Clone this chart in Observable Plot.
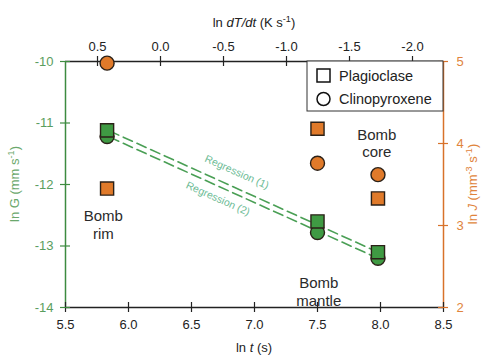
<!DOCTYPE html>
<html><head><meta charset="utf-8">
<script src="https://cdn.jsdelivr.net/npm/d3@7"></script>
<script src="https://cdn.jsdelivr.net/npm/@observablehq/plot@0.6"></script>
<style>
body{margin:0;background:#fff}
#chart svg{font-family:"Liberation Sans",Arial,sans-serif;background:#fff}
</style>
</head><body><div id="chart"></div>
<script>
// ---- data ----
const lnT = [5.83, 7.5, 7.98];                 // ln t (s)
const plagG = [-11.12, -12.6, -13.1];          // Plagioclase ln G
const cpxG = [-11.22, -12.78, -13.2];          // Clinopyroxene ln G
const plagJ = [3.45, 4.18, 3.33];              // Plagioclase ln J
const cpxJ = [4.98, 3.76, 3.62];               // Clinopyroxene ln J
const sampleNames = ["Bomb\nrim", "Bomb\nmantle", "Bomb\ncore"];
const sampleLabelX = [5.8, 7.51, 7.97];
const sampleLabelY = [-12.65, -13.74, -11.33];
const reg1X = [5.85, 7.98], reg1Y = [-11.13, -13.1];
const reg2X = [5.85, 7.98], reg2Y = [-11.23, -13.2];
const regLabels = ["Regression (1)", "Regression (2)"];
const regLabelX = [6.86, 6.71];
const regLabelY = [-11.80, -12.23];
const xTicks = [5.5, 6.0, 6.5, 7.0, 7.5, 8.0, 8.5];
const gTicks = [-14, -13, -12, -11, -10];
const jTicks = [2, 3, 4, 5];
const coolTicks = [0.5, 0.0, -0.5, -1.0, -1.5, -2.0];
const coolOffset = 6.254;   // ln dT/dt = coolOffset - ln t

// ---- helpers ----
const JtoG = j => -14 + (j - 2) * 4 / 3;
const green = "#3f9a43", greenAxis = "#3d8b40", greenLbl = "#5a9e5e";
const orange = "#e07a2a", orangeAxis = "#d8722a", orangeLbl = "#e0843c";
const dark = "#2b2118";

const rows = lnT.map((t, i) => ({t, plagG: plagG[i], cpxG: cpxG[i], plagJ: JtoG(plagJ[i]), cpxJ: JtoG(cpxJ[i])}));
const regs = [
  ...reg1X.map((x, i) => ({id: 1, x, y: reg1Y[i]})),
  ...reg2X.map((x, i) => ({id: 2, x, y: reg2Y[i]}))
];
const samples = sampleNames.map((s, i) => ({s, x: sampleLabelX[i], y: sampleLabelY[i]}));
const regText = regLabels.map((s, i) => ({s, x: regLabelX[i], y: regLabelY[i]}));
const coolPos = coolTicks.map(c => coolOffset - c);
const jPos = jTicks.map(JtoG);

const W = 489, H = 357, mt = 61, mr = 46, mb = 50, ml = 65;
const fw = W - ml - mr, fh = H - mt - mb;

const plot = Plot.plot({
  width: W, height: H,
  marginTop: mt, marginRight: mr, marginBottom: mb, marginLeft: ml,
  x: {domain: [5.5, 8.5], axis: null},
  y: {domain: [-14, -10], axis: null},
  style: {fontFamily: "Liberation Sans, Arial, sans-serif", fontSize: "13px", background: "#fff"},
  marks: [
    // frame lines
    Plot.ruleY([-10], {stroke: "#222", strokeWidth: 1.5}),
    Plot.ruleY([-14], {stroke: "#222", strokeWidth: 1.5}),
    Plot.ruleX([5.5], {stroke: greenAxis, strokeWidth: 1.5}),
    Plot.ruleX([8.5], {stroke: orangeAxis, strokeWidth: 1.5}),
    // crossing tick marks
    Plot.tickX(xTicks, {x: d => d, insetTop: fh - 10, dy: 5, stroke: "#222", strokeWidth: 1.2}),
    Plot.tickX(coolPos, {x: d => d, insetBottom: fh - 10, dy: -5, stroke: "#222", strokeWidth: 1.2}),
    Plot.tickY(gTicks, {y: d => d, insetRight: fw - 10, dx: -5, stroke: greenAxis, strokeWidth: 1.2}),
    Plot.tickY(jPos, {y: d => d, insetLeft: fw - 10, dx: 5, stroke: orangeAxis, strokeWidth: 1.2}),
    // tick labels
    Plot.axisX(xTicks, {anchor: "bottom", tickSize: 0, tickPadding: 12, tickFormat: d => d.toFixed(1), label: null, color: "#222", fontSize: 13}),
    Plot.axisX(coolPos, {anchor: "top", tickSize: 0, tickPadding: 11, tickFormat: d => (Math.round((coolOffset - d) * 10) / 10).toFixed(1).replace("-0.0", "0.0"), label: null, color: "#222", fontSize: 13}),
    Plot.axisY(gTicks, {anchor: "left", tickSize: 0, tickPadding: 12, tickFormat: d => String(d), label: null, color: greenLbl, fontSize: 13}),
    Plot.axisY(jPos, {anchor: "right", tickSize: 0, tickPadding: 13, tickFormat: d => String(jTicks[jPos.indexOf(d)]), label: null, color: orangeLbl, fontSize: 13}),
    // regression lines
    Plot.line(regs, {x: "x", y: "y", z: "id", stroke: "#4a9f55", strokeWidth: 1.6, strokeDasharray: "10,5"}),
    Plot.text(regText, {x: "x", y: "y", text: "s", rotate: 24, fontSize: 10.5, fill: "#6cbb95"}),
    // markers
    Plot.dot(rows, {x: "t", y: "cpxG", r: 7, symbol: "circle", fill: green, stroke: dark, strokeWidth: 1.4}),
    Plot.dot(rows, {x: "t", y: "plagG", r: 7.4, symbol: "square", fill: green, stroke: dark, strokeWidth: 1.4}),
    Plot.dot(rows, {x: "t", y: "cpxJ", r: 7, symbol: "circle", fill: orange, stroke: dark, strokeWidth: 1.4}),
    Plot.dot(rows, {x: "t", y: "plagJ", r: 7.4, symbol: "square", fill: orange, stroke: dark, strokeWidth: 1.4}),
    // sample labels
    Plot.text(samples, {x: "x", y: "y", text: "s", fontSize: 15, lineHeight: 1.15, fill: "#2a2a2a"})
  ]
});
document.getElementById("chart").appendChild(plot);

// ---- titles and legend ----
const svg = d3.select(plot);
function richText(parent, x, y, parts, opts) {
  const t = parent.append("text").attr("x", x).attr("y", y)
    .attr("text-anchor", "middle").attr("fill", opts.fill).attr("font-size", opts.size);
  if (opts.rotate) t.attr("transform", `rotate(${opts.rotate},${x},${y})`);
  for (const p of parts) {
    const s = t.append("tspan").text(p.t);
    if (p.i) s.attr("font-style", "italic");
    if (p.sup) s.attr("font-size", opts.size * 0.7).attr("baseline-shift", "super");
  }
  return t;
}
richText(svg, 254, 27, [{t: "ln "}, {t: "dT/dt", i: true}, {t: " (K s"}, {t: "-1", sup: true}, {t: ")"}], {fill: "#222", size: 13});
richText(svg, 254, 352, [{t: "ln "}, {t: "t", i: true}, {t: " (s)"}], {fill: "#222", size: 13});
richText(svg, 19, 184, [{t: "ln G (mm s"}, {t: "-1", sup: true}, {t: ")"}], {fill: "#6aa86c", size: 13, rotate: -90});
richText(svg, 477, 184, [{t: "ln "}, {t: "J", i: true}, {t: " (mm"}, {t: "-3", sup: true}, {t: " s"}, {t: "-1", sup: true}, {t: ")"}], {fill: orangeLbl, size: 13, rotate: -90});

const lg = svg.append("g").attr("text-anchor", "start");
lg.append("rect").attr("x", 307).attr("y", 61).attr("width", 136).attr("height", 50)
  .attr("fill", "#fff").attr("stroke", "#333").attr("stroke-width", 1);
lg.append("rect").attr("x", 317).attr("y", 69).attr("width", 13).attr("height", 13)
  .attr("fill", "none").attr("stroke", "#111").attr("stroke-width", 1.5);
lg.append("circle").attr("cx", 323.5).attr("cy", 99).attr("r", 6.5)
  .attr("fill", "none").attr("stroke", "#111").attr("stroke-width", 1.5);
lg.append("text").attr("x", 339).attr("y", 81).attr("text-anchor", "start").attr("font-size", 14.5).attr("fill", "#222").text("Plagioclase");
lg.append("text").attr("x", 339).attr("y", 104).attr("text-anchor", "start").attr("font-size", 14.5).attr("fill", "#222").text("Clinopyroxene");
</script>
</body></html>
